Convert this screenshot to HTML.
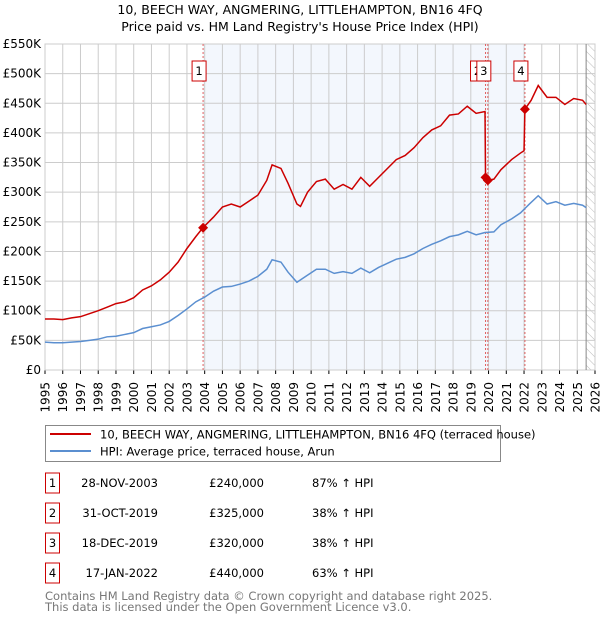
<!DOCTYPE html>
<html><head><meta charset="utf-8"><style>
body{margin:0;background:#fff;font-family:"DejaVu Sans","Liberation Sans",sans-serif;}
svg text{font-family:"DejaVu Sans","Liberation Sans",sans-serif;}
</style></head><body>
<svg id="chart" width="600" height="620" xmlns="http://www.w3.org/2000/svg">
<defs><pattern id="hatch" width="6" height="6" patternUnits="userSpaceOnUse" patternTransform="rotate(-45)"><line x1="0" y1="0" x2="0" y2="6" stroke="#bbb" stroke-width="1"/></pattern></defs>
<text x="300" y="14" font-size="12.5" text-anchor="middle" fill="#000">10, BEECH WAY, ANGMERING, LITTLEHAMPTON, BN16 4FQ</text>
<text x="300" y="31" font-size="12.5" text-anchor="middle" fill="#000">Price paid vs. HM Land Registry's House Price Index (HPI)</text>
<g id="plot"></g>
<g>
<rect x="45.5" y="425.5" width="455" height="36" fill="#fff" stroke="#888"/>
<line x1="50" y1="434" x2="91" y2="434" stroke="#cc0000" stroke-width="2"/>
<text x="100" y="438.5" font-size="11.5">10, BEECH WAY, ANGMERING, LITTLEHAMPTON, BN16 4FQ (terraced house)</text>
<line x1="50" y1="451" x2="91" y2="451" stroke="#5b8fd0" stroke-width="2"/>
<text x="100" y="455.5" font-size="11.5">HPI: Average price, terraced house, Arun</text>
</g>
<g id="table"></g>
<text x="45" y="600" font-size="11.5" fill="#777">Contains HM Land Registry data © Crown copyright and database right 2025.</text>
<text x="45" y="611" font-size="11.5" fill="#777">This data is licensed under the Open Government Licence v3.0.</text>
</svg>
<script>
const hpiYears=[1995,1995.5,1996,1996.5,1997,1997.5,1998,1998.5,1999,1999.5,2000,2000.5,2001,2001.5,2002,2002.5,2003,2003.5,2004,2004.5,2005,2005.5,2006,2006.5,2007,2007.5,2007.8,2008.3,2008.7,2009.2,2009.8,2010.3,2010.8,2011.3,2011.8,2012.3,2012.8,2013.3,2013.8,2014.3,2014.8,2015.3,2015.8,2016.3,2016.8,2017.3,2017.8,2018.3,2018.8,2019.3,2019.8,2020.3,2020.7,2021.3,2021.8,2022.3,2022.8,2023.3,2023.8,2024.3,2024.8,2025.3,2025.5];
const hpiValues=[47,46,46,47,48,50,52,56,57,60,63,70,73,76,82,92,103,115,123,133,140,141,145,150,158,170,186,182,165,148,160,170,170,163,166,163,172,164,173,180,187,190,196,205,212,218,225,228,234,228,232,233,245,255,265,280,294,280,284,278,281,278,274];
const priceYears=[1995,1995.5,1996,1996.5,1997,1997.5,1998,1998.5,1999,1999.5,2000,2000.5,2001,2001.5,2002,2002.5,2003,2003.5,2003.9,2004.5,2005,2005.5,2006,2006.5,2007,2007.5,2007.8,2008.3,2008.7,2009.2,2009.4,2009.8,2010.3,2010.8,2011.3,2011.8,2012.3,2012.8,2013.3,2013.8,2014.3,2014.8,2015.3,2015.8,2016.3,2016.8,2017.3,2017.8,2018.3,2018.8,2019.3,2019.8,2019.83,2019.96,2020.3,2020.7,2021.3,2021.8,2022.0,2022.05,2022.4,2022.8,2023.3,2023.8,2024.3,2024.8,2025.3,2025.5];
const priceValues=[86,86,85,88,90,95,100,106,112,115,122,135,142,152,165,182,205,225,240,258,275,280,275,285,295,320,346,340,315,280,276,300,318,322,305,313,305,325,310,325,340,355,362,375,392,405,412,430,432,445,433,436,325,320,322,338,355,366,370,440,455,480,460,460,448,458,455,448];
const saleLabels=["1","2","3","4"];
const saleYears=[2003.91,2019.83,2019.96,2022.05];
const salePrices=[240,325,320,440];
const saleDates=["28-NOV-2003","31-OCT-2019","18-DEC-2019","17-JAN-2022"];
const salePriceText=["£240,000","£325,000","£320,000","£440,000"];
const salePct=["87% ↑ HPI","38% ↑ HPI","38% ↑ HPI","63% ↑ HPI"];
const yTicks=[0,50,100,150,200,250,300,350,400,450,500,550];
const yTickLabels=["£0","£50K","£100K","£150K","£200K","£250K","£300K","£350K","£400K","£450K","£500K","£550K"];
const xTicks=[];for(let y=1995;y<=2026;y++)xTicks.push(y);

const NS="http://www.w3.org/2000/svg";
const L=45,R=595,T=44,B=370;
const x=v=>L+(v-1995)/(2026-1995)*(R-L);
const y=v=>B-v/550*(B-T);
const plot=document.getElementById('plot');
function mk(tag,attrs,parent){const e=document.createElementNS(NS,tag);for(const k in attrs)e.setAttribute(k,attrs[k]);(parent||plot).appendChild(e);return e;}
let e;
e=mk('rect',{x:L,y:T,width:R-L,height:B-T,fill:'#fff'});


e=mk('rect',{x:x(saleYears[0]),y:T,width:x(saleYears[3])-x(saleYears[0]),height:B-T,fill:'#eef3fc',opacity:0.7});


e=mk('rect',{x:x(2025.5),y:T,width:R-x(2025.5),height:B-T,fill:'url(#hatch)'});


yTicks.forEach((t,i)=>{
 e=mk('line',{x1:L,x2:R,y1:y(t),y2:y(t),stroke:'#ccc','stroke-width':1});
 
 
 e=mk('text',{x:L-4,y:y(t)+4,'font-size':12,'text-anchor':'end',fill:'#000'});
 e.textContent=yTickLabels[i];
 
 
});
xTicks.forEach(t=>{
 e=mk('line',{x1:x(t),x2:x(t),y1:T,y2:B,stroke:'#ccc','stroke-width':1});
 
 
 e=mk('line',{x1:x(t),x2:x(t),y1:B,y2:B+4,stroke:'#000','stroke-width':1});
 
 
 const tx=x(t)+4.5,ty=B+12;
 e=mk('text',{x:tx,y:ty,'font-size':12,'text-anchor':'end',fill:'#000',transform:`rotate(-90 ${tx} ${ty})`});
 e.textContent=t;
 
 
});
e=mk('rect',{x:L,y:T,width:R-L,height:B-T,fill:'none',stroke:'#ccc'});


e=mk('line',{x1:x(2025.5),x2:x(2025.5),y1:T,y2:B,stroke:'#888','stroke-width':1});


saleYears.forEach(s=>{
 e=mk('line',{x1:x(s),x2:x(s),y1:T,y2:B,stroke:'#e06060','stroke-width':1,'stroke-dasharray':'2,2'});
 
 
});
e=mk('polyline',{points:hpiYears.map((v,i)=>x(v)+','+y(hpiValues[i])).join(' '),fill:'none',stroke:'#5b8fd0','stroke-width':1.5});


e=mk('polyline',{points:priceYears.map((v,i)=>x(v)+','+y(priceValues[i])).join(' '),fill:'none',stroke:'#cc0000','stroke-width':1.5});


saleYears.forEach((s,i)=>{
 const cx=x(s),cy=y(salePrices[i]);
 e=mk('polygon',{points:`${cx},${cy-5} ${cx+5},${cy} ${cx},${cy+5} ${cx-5},${cy}`,fill:'#cc0000'});
 
 
});
const boxX=[x(saleYears[0])-11,x(saleYears[1])-15,x(saleYears[2])-11,x(saleYears[3])-11];
[1,0,2,3].forEach(i=>{
 e=mk('rect',{x:boxX[i],y:61,width:14,height:20,fill:'#fff',stroke:'#cc0000'});
 
 
 e=mk('text',{x:boxX[i]+7,y:75,'font-size':11.5,'text-anchor':'middle'});
 e.textContent=saleLabels[i];
 
 
});
const tbl=document.getElementById('table');
saleLabels.forEach((l,i)=>{
 const cy=483+i*30;
 e=mk('rect',{x:45.5,y:cy-10,width:14,height:20,fill:'#fff',stroke:'#cc0000'},tbl);
 
 
 e=mk('text',{x:52.5,y:cy+4,'font-size':11.5,'text-anchor':'middle'},tbl);e.textContent=l;
 
 
 e=mk('text',{x:158,y:cy+4,'font-size':11.5,'text-anchor':'end'},tbl);e.textContent=saleDates[i];
 
 
 e=mk('text',{x:264,y:cy+4,'font-size':11.5,'text-anchor':'end'},tbl);e.textContent=salePriceText[i];
 
 
 e=mk('text',{x:312,y:cy+4,'font-size':11.5},tbl);e.textContent=salePct[i];
 
 
});
</script>
</body></html>
